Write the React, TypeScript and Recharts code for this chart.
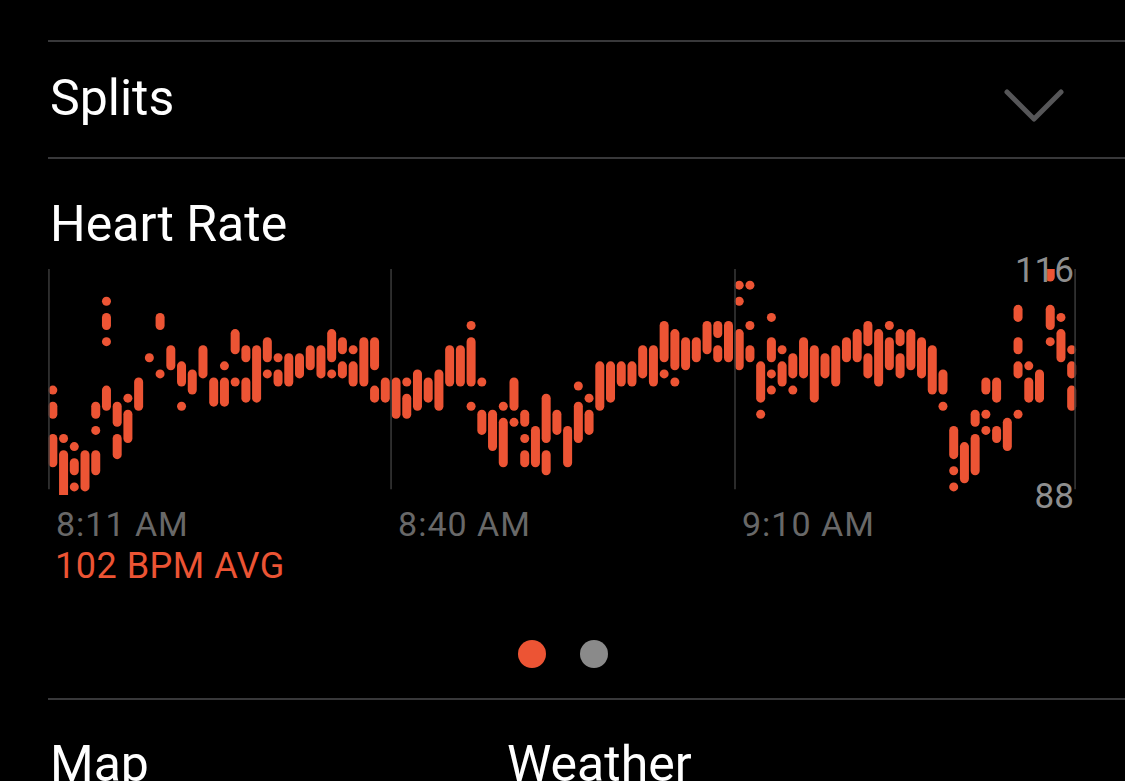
import { Bar, BarChart, ReferenceLine, XAxis, YAxis } from "recharts";

type Seg = [number, number];

// one entry per time bucket; each bucket holds one or more [low, high] readings (bpm)
const readings: Seg[][] = [
  [[101, 101], [98, 99], [92, 95]],
  [[95, 95], [88, 93]],
  [[94, 94], [91, 92], [89, 89]],
  [[89, 93]],
  [[98, 99], [96, 96], [91, 93]],
  [[112, 112], [109, 110], [107, 107], [99, 101]],
  [[97, 99], [93, 95]],
  [[100, 100], [95, 98]],
  [[99, 102]],
  [[105, 105]],
  [[109, 110], [103, 103]],
  [[104, 106]],
  [[102, 104], [99, 99]],
  [[101, 103]],
  [[103, 106]],
  [[99.5, 102]],
  [[104, 104], [99.5, 102]],
  [[106, 108], [102, 102]],
  [[105, 106], [100, 102]],
  [[100, 106]],
  [[105, 107], [103, 103]],
  [[105, 105], [102, 103]],
  [[102, 105]],
  [[103, 105]],
  [[104, 106]],
  [[103, 106]],
  [[105, 108], [103, 103]],
  [[106, 107], [103, 104]],
  [[106, 106], [102, 104]],
  [[102, 107]],
  [[104, 107], [100, 101]],
  [[100, 102]],
  [[98, 102]],
  [[102, 102], [98, 100]],
  [[99, 103]],
  [[100, 102]],
  [[99, 103]],
  [[102, 106]],
  [[102, 106]],
  [[109, 109], [102, 107], [99, 99]],
  [[102, 102], [96, 98]],
  [[94, 98]],
  [[99, 99], [92, 97]],
  [[99, 102], [97, 97]],
  [[97, 98], [95, 95], [92, 93]],
  [[92, 96]],
  [[95, 100], [91, 93]],
  [[96, 98]],
  [[92, 96]],
  [[101.5, 101.5], [95, 99]],
  [[100, 100], [96, 98]],
  [[99, 104]],
  [[100, 104]],
  [[102, 104]],
  [[102, 104]],
  [[103, 106]],
  [[102, 106]],
  [[105, 109], [103, 103]],
  [[104, 108], [102, 102]],
  [[104, 107]],
  [[105, 107]],
  [[106, 109]],
  [[108, 109], [105, 106]],
  [[105, 109]],
  [[114, 114], [112, 112], [104, 108]],
  [[114, 114], [109, 109], [105, 106]],
  [[100, 104], [98, 98]],
  [[110, 110], [105, 107], [103, 103], [101, 101]],
  [[106, 106], [102, 104]],
  [[103, 105], [101, 101]],
  [[103, 107]],
  [[100, 106]],
  [[103, 105]],
  [[102, 106]],
  [[105, 107]],
  [[105, 108]],
  [[107, 109], [103, 105]],
  [[102, 108]],
  [[109, 109], [104, 107]],
  [[107, 108], [103, 105]],
  [[104, 108]],
  [[103, 107]],
  [[101, 106]],
  [[101, 103], [99, 99]],
  [[93, 96], [91, 91], [89, 89]],
  [[90, 94]],
  [[97, 98], [91, 95]],
  [[101, 102], [98, 98], [96, 96]],
  [[100, 102], [95, 96]],
  [[94, 97]],
  [[110, 111], [106, 107], [103, 104], [98, 98]],
  [[104, 104], [100, 102]],
  [[100, 103]],
  [[115, 116], [109, 111], [107, 107]],
  [[110, 110], [105, 108]],
  [[106, 106], [103, 104], [99, 101]],
];

// time marks (in bucket units) where the vertical rules sit
const gridMarks = [-0.35, 31.55, 63.62, 95.33];
const tickLabels = ["8:11 AM", "8:40 AM", "9:10 AM"];
const bpmTicks = [88, 116];
const bpmDomain: [number, number] = [88, 116];
const ruleBottom = 88.7;
const avgBpm = 102;

const segKeys = ["s0", "s1", "s2", "s3"];
const rows = readings.map((segs, i) => ({
  i,
  s0: segs[0],
  s1: segs[1],
  s2: segs[2],
  s3: segs[3],
}));

const RED = "#ec5434";
const FONT = "Roboto, 'Liberation Sans', sans-serif";
const halfBand = 5.36;

function Pill(props: any) {
  const { x, y, width, height } = props;
  if (![x, y, width, height].every((v) => Number.isFinite(v))) return null;
  const r = width / 2;
  const top = Math.min(y, y + height);
  const h = Math.abs(height);
  return (
    <rect x={x} y={top - r} width={width} height={h + width} rx={r} ry={r} fill={RED} />
  );
}

function TimeTick(props: any) {
  const { x, y, payload } = props;
  const idx = gridMarks.indexOf(payload.value);
  if (idx < 0 || idx >= tickLabels.length) return null;
  return (
    <text
      x={x}
      y={y}
      dx={7}
      dy={11}
      textAnchor="start"
      fill="#686868"
      fontSize={34}
      letterSpacing={1}
      fontFamily={FONT}
    >
      {tickLabels[idx]}
    </text>
  );
}

function BpmTick(props: any) {
  const { x, y, payload } = props;
  return (
    <text x={x} y={y} dy="0.36em" dx={4} textAnchor="end" fill="#8e8e8e" fontSize={35} fontFamily={FONT}>
      {payload.value}
    </text>
  );
}

function Rule({ top }: { top: number }) {
  return (
    <div
      style={{ position: "absolute", left: 48, right: 0, top, height: 1.5, background: "#38383a" }}
    />
  );
}

export default function App() {
  return (
    <div
      style={{
        position: "relative",
        width: 1125,
        height: 781,
        background: "#000",
        overflow: "hidden",
        fontFamily: FONT,
      }}
    >
      <style>{"body{margin:0;background:#000}"}</style>
      <Rule top={40} />
      <div style={{ position: "absolute", left: 50, top: 73, fontSize: 50, lineHeight: "50px", color: "#fff" }}>
        Splits
      </div>
      <svg style={{ position: "absolute", left: 1000, top: 84 }} width={70} height={44}>
        <polyline points="7,8 34,35 61,8" fill="none" stroke="#565658" strokeWidth={5} strokeLinecap="round" strokeLinejoin="round" />
      </svg>
      <Rule top={157} />
      <div style={{ position: "absolute", left: 50, top: 199, fontSize: 50, lineHeight: "50px", color: "#fff" }}>
        Heart Rate
      </div>

      <div style={{ position: "absolute", left: 0, top: 0 }}>
        <BarChart
          width={1125}
          height={600}
          data={rows}
          margin={{ top: 269, right: 48.1, bottom: 55, left: 47.34 }}
          barGap={-9}
        >
          <XAxis xAxisId="cat" dataKey="i" hide />
          <XAxis
            xAxisId="t"
            dataKey="i"
            type="number"
            domain={["dataMin", "dataMax"]}
            padding={{ left: halfBand, right: halfBand }}
            ticks={gridMarks.slice(0, 3)}
            interval={0}
            axisLine={false}
            tickLine={false}
            tickSize={0}
            tickMargin={0}
            height={50}
            tick={<TimeTick />}
          />
          <YAxis
            orientation="right"
            mirror
            width={60}
            domain={bpmDomain}
            allowDataOverflow
            ticks={bpmTicks}
            interval={0}
            axisLine={false}
            tickLine={false}
            tickSize={0}
            tickMargin={7}
            tick={<BpmTick />}
          />
          {gridMarks.map((m) => (
            <ReferenceLine
              key={m}
              xAxisId="t"
              ifOverflow="visible"
              segment={[
                { x: m, y: bpmDomain[1] },
                { x: m, y: ruleBottom },
              ]}
              stroke="#3a3a3a"
              strokeWidth={1.5}
            />
          ))}
          {segKeys.map((k) => (
            <Bar
              key={k}
              xAxisId="cat"
              dataKey={k}
              barSize={9}
              fill={RED}
              shape={<Pill />}
              isAnimationActive={false}
            />
          ))}
        </BarChart>
      </div>

      <div
        style={{
          position: "absolute",
          left: 55,
          top: 548,
          fontSize: 36,
          lineHeight: "36px",
          letterSpacing: 0.5,
          color: RED,
        }}
      >
        {avgBpm} BPM AVG
      </div>
      <div style={{ position: "absolute", left: 518, top: 640, width: 28, height: 28, borderRadius: 14, background: RED }} />
      <div style={{ position: "absolute", left: 580, top: 640, width: 28, height: 28, borderRadius: 14, background: "#8a8a8a" }} />
      <Rule top={698} />
      <div style={{ position: "absolute", left: 50, top: 739, fontSize: 50, lineHeight: "50px", color: "#fff" }}>
        Map
      </div>
      <div style={{ position: "absolute", left: 507, top: 739, fontSize: 50, lineHeight: "50px", color: "#fff" }}>
        Weather
      </div>
    </div>
  );
}
